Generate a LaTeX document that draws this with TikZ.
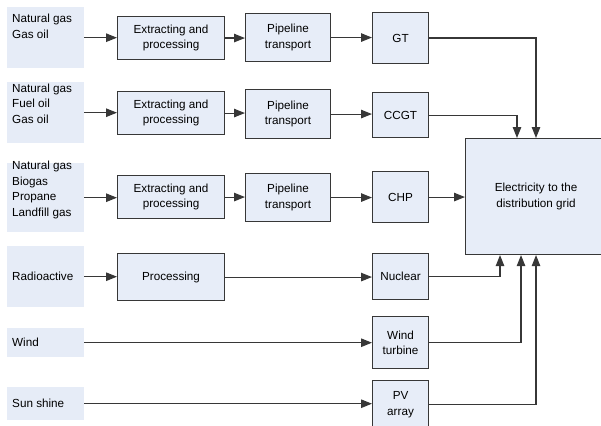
\documentclass[tikz,border=0pt]{standalone}
\usepackage{fontspec}
\setmainfont{Liberation Sans}
\usetikzlibrary{arrows.meta,calc}
\definecolor{boxfill}{RGB}{231,237,248}
\definecolor{srcfill}{RGB}{230,236,247}
\definecolor{edge}{RGB}{55,55,55}
\begin{document}
\begin{tikzpicture}[x=1pt,y=-1pt,
  every node/.style={font=\fontsize{11.7}{15.4}\selectfont, inner sep=0pt},
  srcbox/.style={fill=srcfill, draw=none, anchor=north west},
  srctext/.style={anchor=west, align=left},
  procbox/.style={fill=boxfill, draw=edge, line width=1.1pt, anchor=north west, align=center},
  arr/.style={draw=edge, line width=1.1pt, -{Triangle[length=11pt,width=8.5pt]}},
  ln/.style={draw=edge, line width=1.1pt}]
\path[use as bounding box, clip] (0,0) rectangle (601,425);
% sources
\node[srcbox, minimum width=77pt, minimum height=61pt] (s1) at (7,7) {};
\node[srcbox, minimum width=77pt, minimum height=61pt] (s2) at (7,82) {};
\node[srcbox, minimum width=77pt, minimum height=69pt] (s3) at (7,163) {};
\node[srcbox, minimum width=77pt, minimum height=61pt] (s4) at (7,246) {};
\node[srcbox, minimum width=77pt, minimum height=29pt] (s5) at (7,328) {};
\node[srcbox, minimum width=77pt, minimum height=33pt] (s6) at (7,387) {};
\node[srctext] (t1) at (12,26.5) {Natural gas\\Gas oil};
\node[srctext] (t2) at (12,103.5) {Natural gas\\Fuel oil\\Gas oil};
\node[srctext] (t3) at (12,190) {Natural gas\\Biogas\\Propane\\Landfill gas};
\node[srctext] (t4) at (12,276) {Radioactive};
\node[srctext] (t5) at (12,342) {Wind};
\node[srctext] (t6) at (12,403) {Sun shine};
% extracting
\node[procbox, minimum width=107pt, minimum height=43pt] (e1) at (117,16) {Extracting and\\processing};
\node[procbox, minimum width=107pt, minimum height=43pt] (e2) at (117,91) {Extracting and\\processing};
\node[procbox, minimum width=107pt, minimum height=43pt] (e3) at (117,175) {Extracting and\\processing};
\node[procbox, minimum width=107pt, minimum height=47pt] (e4) at (117,253) {Processing};
% pipeline
\node[procbox, minimum width=85pt, minimum height=48pt] (p1) at (245,13) {Pipeline\\transport};
\node[procbox, minimum width=85pt, minimum height=49pt] (p2) at (245,89) {Pipeline\\transport};
\node[procbox, minimum width=85pt, minimum height=48pt] (p3) at (245,173) {Pipeline\\transport};
% plants
\node[procbox, minimum width=56pt, minimum height=51pt] (g1) at (372,12) {GT};
\node[procbox, minimum width=56pt, minimum height=45pt] (g2) at (372,92) {CCGT};
\node[procbox, minimum width=56pt, minimum height=51pt] (g3) at (372,171) {CHP};
\node[procbox, minimum width=56pt, minimum height=46pt] (g4) at (372,253) {Nuclear};
\node[procbox, minimum width=56pt, minimum height=52pt] (g5) at (372,316) {Wind\\turbine};
\node[procbox, minimum width=56pt, minimum height=48pt] (g6) at (372,380) {PV\\array};
% grid
\node[procbox, minimum width=141pt, minimum height=116pt] (grid) at (465,138) {Electricity to the\\distribution grid};
% connectors row 1-3
\foreach \i in {1,2,3} {
  \draw[arr] (s\i.east) -- (s\i.east -| e\i.west);
  \draw[arr] (e\i.east) -- (e\i.east -| p\i.west);
  \draw[arr] (p\i.east) -- (p\i.east -| g\i.west);
}
\draw[arr] (s4.east) -- (s4.east -| e4.west);
\draw[arr] (e4.east) -- (e4.east -| g4.west);
\draw[arr] (s5.east) -- (s5.east -| g5.west);
\draw[arr] (s6.east) -- (s6.east -| g6.west);
% to grid
\coordinate (n1) at ($(grid.north west)+(71,0)$);
\coordinate (n2) at ($(grid.north west)+(52,0)$);
\coordinate (b4) at ($(grid.south west)+(35,0)$);
\coordinate (b5) at ($(grid.south west)+(56,0)$);
\coordinate (b6) at ($(grid.south west)+(71,0)$);
\draw[arr] (g1.east) -| (n1);
\draw[arr] (g2.east) -| (n2);
\draw[arr] (g3.east) -- (g3.east -| grid.west);
\draw[arr] (g4.east) -| (b4);
\draw[arr] (g5.east) -| (b5);
\draw[arr] (g6.east) -| (b6);
\end{tikzpicture}
\end{document}
